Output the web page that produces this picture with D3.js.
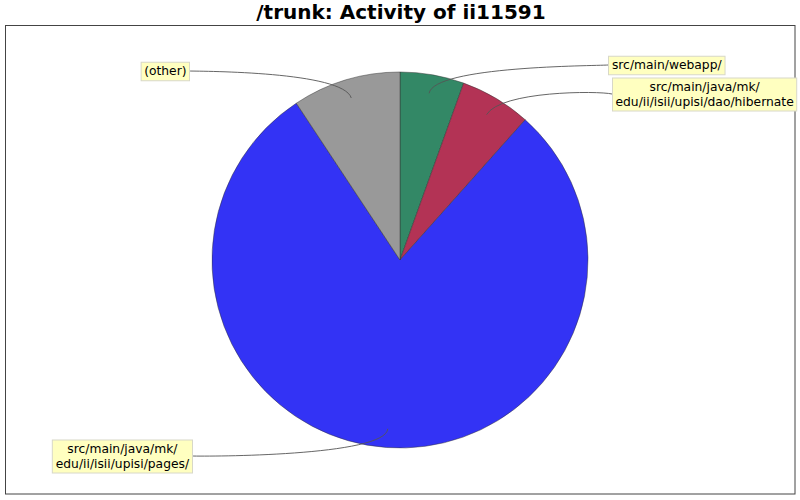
<!DOCTYPE html>
<html><head><meta charset="utf-8">
<script src="https://cdn.jsdelivr.net/npm/d3@7"></script>
<style>body{margin:0;background:#fff}svg{display:block}</style>
</head><body>
<svg id="chart" width="800" height="500"></svg>
<script>
const titleText = "/trunk: Activity of ii11591";
const categories = ["src/main/webapp/", "src/main/java/mk/\nedu/ii/isii/upisi/dao/hibernate", "src/main/java/mk/\nedu/ii/isii/upisi/pages/", "(other)"];
const values = [5.5, 6.1, 79.1, 9.3];
const colors = ["#338866", "#b33355", "#3333f5", "#999999"];
const labelSide = ["right", "right", "left", "left"];
const labelY = [65, 94, 456, 71];     // label centre y
const labelEdgeX = [608, 612, 192, 189]; // label box inner edge

const svg = d3.select("#chart");
const W = 800, H = 500;
const cx = 400, cy = 260, R = 188;
const font = "'DejaVu Sans', sans-serif";

svg.append("rect").attr("x", 5.5).attr("y", 25.5).attr("width", 789.5).attr("height", 468.5)
  .attr("fill", "#fff").attr("stroke", "#444").attr("stroke-width", 1);

svg.append("text").attr("x", 401).attr("y", 19).attr("text-anchor", "middle")
  .attr("font-family", font).attr("font-weight", "bold").attr("font-size", 20).text(titleText);

const data = categories.map((c, i) => ({cat: c, value: values[i], color: colors[i], side: labelSide[i], ly: labelY[i], lx: labelEdgeX[i]}));
const pie = d3.pie().sort(null).value(d => d.value);
const arcs = pie(data);
const arc = d3.arc().innerRadius(0).outerRadius(R);
const g = svg.append("g").attr("transform", `translate(${cx},${cy})`);
g.selectAll("path.slice").data(arcs).join("path").attr("class", "slice")
  .attr("d", arc).attr("fill", d => d.data.color)
  .attr("stroke", "#333").attr("stroke-width", 0.6).attr("stroke-opacity", 0.8);

// links
const linkR = R * 0.9, elbowR = 197;
arcs.forEach(a => {
  const th = (a.startAngle + a.endAngle) / 2;
  const lx = cx + Math.sin(th) * linkR, ly = cy - Math.cos(th) * linkR;
  const ex = cx + Math.sin(th) * elbowR, ey = cy - Math.cos(th) * elbowR;
  const tx = a.data.lx, ty = a.data.ly;
  const ax = a.data.side === "right" ? tx - 14 : tx + 14;
  const p = d3.path();
  p.moveTo(lx, ly);
  p.bezierCurveTo(ex, ey, ax, ey, tx, ty);
  svg.append("path").attr("d", p.toString()).attr("fill", "none")
    .attr("stroke", "#555").attr("stroke-width", 0.9);
});

// labels
arcs.forEach(a => {
  const lines = a.data.cat.split("\n");
  const lh = 14.5;
  const grp = svg.append("g");
  const rect = grp.append("rect");
  const txt = grp.append("text").attr("font-family", font).attr("font-size", 12.3)
    .attr("text-anchor", "middle").attr("fill", "#000");
  lines.forEach((l, i) => txt.append("tspan").attr("x", 0).attr("y", (i - (lines.length - 1) / 2) * lh + 4.4).text(l));
  const bb = txt.node().getBBox();
  const w = bb.width + 6, h = lines.length * lh + 4;
  const x0 = a.data.side === "right" ? a.data.lx : a.data.lx - w;
  const y0 = a.data.ly - h / 2;
  rect.attr("x", x0 + 0.5).attr("y", y0 + 0.5).attr("width", w).attr("height", h)
    .attr("fill", "#ffffc0").attr("stroke", "#d8d8c8").attr("stroke-width", 1);
  txt.attr("transform", `translate(${x0 + 0.5 + w / 2},${a.data.ly})`);
});
</script>
</body></html>
